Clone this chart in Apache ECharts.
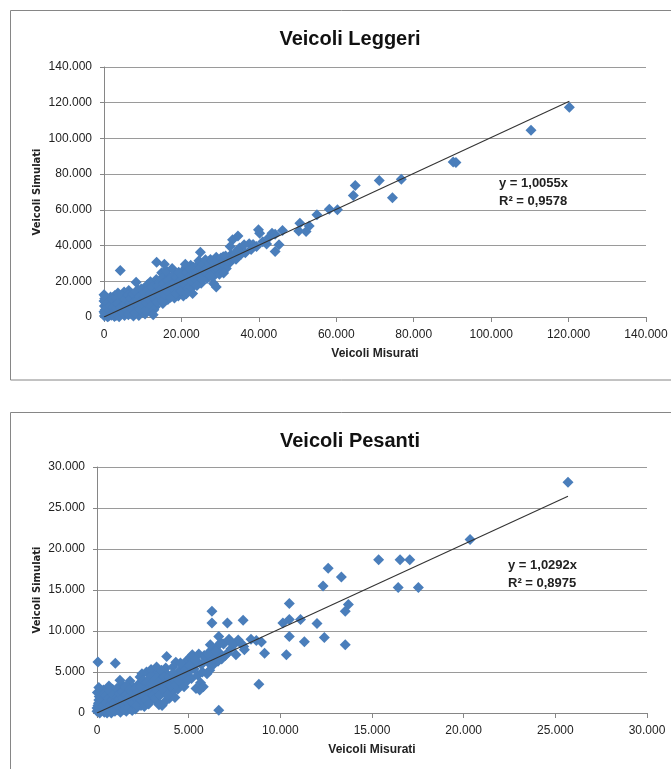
<!DOCTYPE html>
<html>
<head>
<meta charset="utf-8">
<title>Veicoli Leggeri / Veicoli Pesanti</title>
<script src="https://cdn.jsdelivr.net/npm/echarts@6/dist/echarts.min.js"></script>
<style>
    html, body { margin: 0; padding: 0; background: #fff; overflow: hidden; }
    #chart { width: 671px; height: 769px; }
</style>
</head>
<body>
<div id="chart"></div>
<script>
// valori in migliaia di veicoli: [misurati, simulati]
var datiLeggeri = [
    [0.1,0.5],[0.2,2.1],[0.3,4.0],[0.1,6.2],[0.4,8.1],[0.2,10.3],[0.5,1.2],[0.8,3.3],[1.0,5.5],[0.6,7.4],
    [1.2,0.4],[1.5,2.6],[1.8,4.8],[1.3,9.2],[2.0,7.0],[2.3,1.5],[2.6,3.9],[2.9,6.1],[2.2,10.8],[3.1,0.8],
    [3.4,2.7],[3.0,8.6],[0.3,11.8],[0.9,0.2],[1.7,11.2],[2.8,12.0],[0.0,3.0],[0.0,8.9],
    [3.8,5.2],[4.1,1.6],[4.5,3.4],[4.2,7.3],[4.8,9.6],[5.0,12.4],[5.3,0.9],[5.6,5.8],[5.9,2.9],[6.2,8.0],
    [6.0,10.9],[6.5,4.6],[6.8,13.3],[7.0,1.8],[7.2,6.6],[7.5,9.4],[7.8,3.5],[8.0,11.6],[5.2,14.0],[6.4,14.8],
    [4.0,11.0],[3.6,13.5],[7.6,0.6],[8.3,7.9],
    [8.6,5.1],[8.9,10.2],[9.1,13.9],[9.4,2.8],[9.7,8.3],[10.0,12.0],[10.2,15.5],[10.5,5.9],[10.8,9.7],[11.1,13.1],
    [11.4,3.9],[11.6,16.6],[11.9,7.4],[12.2,11.2],[12.5,14.5],[12.8,9.0],[13.0,17.8],[13.3,5.8],[13.6,12.6],[13.9,15.4],
    [9.0,0.9],[10.6,1.7],[11.2,18.0],[12.0,19.8],[13.5,21.0],[8.8,15.2],
    [14.2,9.7],[14.4,19.3],[14.7,13.6],[15.0,16.8],[15.3,11.1],[15.6,21.5],[15.9,14.3],[16.2,18.4],[16.5,9.8],[16.8,23.0],
    [17.1,15.6],[17.4,20.0],[17.7,12.7],[18.0,17.3],[18.3,24.1],[18.6,14.1],[18.9,20.7],[19.2,11.8],[19.5,22.8],[19.8,16.9],
    [14.9,24.8],[16.0,26.0],[17.6,27.2],[15.2,7.6],[18.2,10.6],
    [20.1,19.6],[20.3,25.5],[20.6,14.6],[20.9,22.4],[21.2,27.8],[21.5,17.8],[21.8,24.4],[22.1,20.9],[22.4,29.0],[22.7,16.4],
    [23.0,23.6],[23.3,26.6],[23.6,19.5],[23.9,28.1],[24.2,22.0],[24.5,31.5],[24.8,25.0],[25.1,18.9],[25.4,27.0],[25.7,23.1],
    [26.0,30.2],[21.0,29.5],[22.9,13.2],[20.5,11.8],
    [26.3,26.4],[26.6,21.6],[26.9,29.6],[27.2,24.3],[27.5,32.2],[27.8,27.8],[28.1,22.4],[28.4,30.8],[28.7,25.9],[29.0,33.4],
    [29.3,28.6],[29.6,26.7],[30.0,31.0],[30.4,28.2],[30.8,33.8],[31.2,29.4],[31.6,27.1],[32.0,32.3],[32.4,30.3],[32.8,34.9],
    [28.3,18.8],[27.0,31.0],
    [0.5,9.6],[0.7,5.0],[1.1,7.9],[1.4,3.9],[1.6,6.3],[1.9,1.0],[2.1,9.8],[2.4,5.4],[2.7,0.3],[3.2,4.6],
    [3.3,10.2],[3.5,7.6],[3.9,0.2],[4.3,5.2],[4.6,11.8],[4.9,2.2],[5.4,7.1],[5.5,10.1],[5.8,4.0],[6.1,12.3],
    [6.3,1.2],[6.7,7.8],[6.9,10.5],[7.3,4.4],[7.4,12.9],[7.7,8.2],[8.1,2.3],[8.2,14.1],[8.5,9.1],[8.7,6.9],
    [9.2,11.4],[9.3,4.6],[9.6,15.7],[9.9,7.0],[10.3,10.8],[10.4,13.6],[10.7,3.8],[11.0,7.9],[11.3,15.0],[11.5,10.4],
    [11.8,13.0],[12.1,6.2],[12.4,16.8],[12.7,12.0],[12.9,4.1],[13.2,10.1],[13.4,14.2],[13.7,8.4],[14.0,17.4],[14.3,11.9],
    [14.6,15.4],[14.8,21.6],[15.1,9.0],[15.4,18.6],[15.7,12.5],[16.0,16.2],[16.3,20.4],[16.6,13.9],[16.9,17.8],[17.2,11.0],
    [17.5,22.3],[17.8,15.9],[18.1,19.3],[18.4,13.1],[18.7,22.0],[19.0,17.8],[19.3,25.1],[19.6,19.9],[19.9,14.5],[20.2,23.0],
    [20.7,18.2],[21.1,20.7],[21.4,24.9],[21.7,15.5],[22.0,22.6],[22.3,26.8],[22.6,19.8],[23.1,27.8],[23.4,21.7],[23.7,25.2],
    [24.0,17.6],[24.3,29.4],[24.6,23.8],[25.0,27.9],[25.3,21.2],[25.6,29.6],[25.9,25.8],[26.2,32.0],[26.5,24.7],[26.8,27.6],
    [27.3,29.9],[27.7,22.9],[28.0,31.4],[28.6,28.0],[29.2,31.7],[29.8,24.0],[30.2,33.0],[30.6,30.4],[31.0,31.9],[31.4,34.2],
    [31.9,30.9],[33.3,33.1],[33.8,35.6],[34.1,32.4],[34.5,37.4],[35.0,38.6],[36.5,36.0],[37.5,41.0],[38.5,40.6],[41.0,42.2],
    [42.0,40.9],[42.6,44.5],[38.0,37.8],
    [30.9,24.6],[29.0,16.8],[24.9,36.3],[13.6,30.7],[15.6,29.6],[4.2,26.1],[8.3,19.4],[12.7,1.3],[21.3,13.0],[0.0,12.5],
    [33.2,43.2],[34.6,45.4],[32.6,39.5],[35.4,35.2],[36.2,40.4],[39.4,39.5],[39.9,48.8],[40.2,46.9],[43.4,46.9],[44.2,46.4],
    [46.1,48.4],[45.2,40.4],[44.2,36.7],[50.3,48.2],[52.2,47.9],[53.0,51.0],[50.6,52.5],[55.0,57.2],[58.2,60.3],[60.3,60.0],
    [64.4,68.0],[64.9,73.7],[71.1,76.5],[74.5,66.8],[76.8,77.1],[90.2,86.8],[90.9,86.5],[110.3,104.6],[120.2,117.5]
];

var datiPesanti = [
    [0.0,0.2],[0.05,0.9],[0.1,1.6],[0.02,2.5],[0.2,0.5],[0.3,1.2],[0.25,2.0],[0.4,0.1],[0.5,0.8],[0.45,1.7],
    [0.6,2.4],[0.7,0.3],[0.8,1.1],[0.75,1.9],[0.9,0.6],[1.0,1.5],[0.95,2.3],[0.15,0.0],[0.35,2.8],[0.55,0.0],
    [0.85,2.9],[0.1,3.1],[0.65,3.3],
    [1.1,0.4],[1.15,2.7],[1.2,1.2],[1.3,2.0],[1.35,3.5],[1.4,0.7],[1.5,1.6],[1.55,2.9],[1.6,0.2],[1.7,1.1],
    [1.75,2.4],[1.8,3.9],[1.9,0.8],[1.95,1.9],[2.0,3.1],[1.25,4.0],[1.65,3.3],
    [2.1,0.5],[2.15,2.3],[2.2,1.4],[2.3,3.6],[2.35,4.4],[2.4,0.9],[2.5,2.7],[2.55,1.8],[2.6,3.3],[2.7,5.0],
    [2.75,1.2],[2.8,2.2],[2.85,4.1],[2.9,3.0],[2.95,5.3],[3.0,1.7],[2.45,4.8],
    [3.1,2.6],[3.15,4.6],[3.2,3.5],[3.3,1.3],[3.35,5.0],[3.4,2.9],[3.5,4.2],[3.55,0.9],[3.6,3.6],[3.7,2.4],
    [3.75,5.5],[3.8,4.8],[3.9,3.1],[3.95,1.8],[4.0,4.0],[3.25,5.6],
    [4.1,2.6],[4.15,5.6],[4.2,3.4],[4.3,6.2],[4.35,4.5],[4.4,2.9],[4.5,5.1],[4.6,3.8],[4.7,5.7],[4.8,4.5],
    [4.9,6.4],[5.0,5.0],[4.25,1.9],
    [5.1,6.8],[5.15,4.2],[5.2,7.1],[5.3,5.4],[5.4,3.0],[5.45,6.3],[5.5,4.6],[5.6,2.8],[5.65,3.7],[5.7,5.9],
    [5.8,3.2],[5.9,6.7],[6.0,4.8],[5.25,6.0],[5.55,7.2],
    [6.1,6.1],[6.2,7.6],[6.3,5.8],[6.4,6.9],[6.5,8.0],[6.6,6.3],[6.7,7.3],[6.8,6.6],[6.9,8.4],[7.0,7.0],
    [0.0,0.6],[0.08,1.2],[0.12,2.0],[0.18,0.3],[0.22,1.4],[0.28,0.8],[0.32,2.2],[0.38,1.0],[0.42,0.4],[0.48,2.1],
    [0.52,1.3],[0.58,0.5],[0.62,1.8],[0.68,2.7],[0.72,1.0],[0.78,0.0],[0.82,1.6],[0.88,2.2],[0.92,1.2],[0.98,0.2],
    [1.05,1.9],[1.08,3.0],[1.12,0.9],[1.18,1.7],[1.22,2.4],[1.28,0.1],[1.32,1.3],[1.38,2.6],[1.42,1.9],[1.48,0.4],
    [1.52,3.2],[1.58,2.2],[1.62,1.4],[1.68,0.6],[1.72,1.9],[1.78,2.9],[1.82,1.5],[1.88,2.6],[1.92,0.3],[1.98,1.2],
    [2.05,2.0],[2.12,3.0],[2.18,0.9],[2.25,2.6],[2.32,1.9],[2.38,3.2],[2.42,1.5],[2.48,2.2],[2.52,4.0],[2.58,0.8],
    [2.62,2.5],[2.68,1.6],[2.72,3.8],[2.78,2.9],[2.82,1.1],[2.88,2.5],[2.92,4.4],[2.98,3.6],[3.05,2.2],[3.12,3.9],
    [3.18,1.8],[3.22,4.2],[3.28,2.8],[3.38,3.8],[3.45,2.2],[3.52,5.2],[3.58,3.0],[3.65,4.4],[3.72,1.4],[3.78,3.7],
    [3.85,2.2],[3.92,4.4],[4.05,3.3],[4.12,4.8],[4.22,4.0],[4.32,3.4],[4.45,4.0],[4.55,6.1],[4.65,4.6],[4.75,3.2],
    [4.85,5.3],[4.95,4.0],[5.05,5.8],[5.35,6.5],[5.75,5.0],[5.85,7.0],[6.05,7.2],[6.15,5.2],[6.35,6.6],[6.55,7.0],
    [6.75,8.6],[7.3,7.8],[7.5,8.4],[7.7,8.9],[7.9,8.4],[8.4,9.0],[7.2,9.0],[6.45,7.5],
    [0.05,6.23],[1.0,6.07],[3.8,6.88],[3.38,1.02],[6.64,0.33],[8.83,3.52],
    [6.27,12.42],[6.27,10.98],[7.11,10.98],[7.97,11.31],[6.64,9.34],[6.18,8.32],[7.34,8.52],[8.0,8.11],[8.69,8.85],[8.97,8.65],
    [7.11,7.29],[7.58,7.09],[8.04,7.70],[9.14,7.29],
    [10.14,10.98],[10.49,11.39],[10.49,13.36],[10.49,9.34],[10.33,7.09],[11.10,11.39],[11.31,8.69],[12.0,10.9],[12.40,9.22],
    [12.33,15.49],[12.61,17.66],[13.33,16.60],[13.71,13.24],[13.54,12.42],[13.54,8.32],
    [15.36,18.69],[16.53,18.69],[17.06,18.69],[16.43,15.29],[17.53,15.29],[20.35,21.15],[25.69,28.15]
];

var coeffLeggeri = 1.0055, r2Leggeri = '0,9578';
var coeffPesanti = 1.0292, r2Pesanti = '0,8975';

var ticksLeggeri = {min: 0, max: 140, interval: 20};
var ticksPesanti = {min: 0, max: 30, interval: 5};

var myChart = echarts.init(document.getElementById('chart'));

// 140 -> "140.000" (separatore delle migliaia all'italiana)
function fmt(v){
    if (v === 0) return '0';
    return String(Math.round(v * 1000)).replace(/\B(?=(\d{3})+(?!\d))/g, '.');
}

function trend(dati, coeff){
    var maxX = 0;
    dati.forEach(function(p){ if (p[0] > maxX) maxX = p[0]; });
    return [[0, 0], [maxX, maxX * coeff]];
}

var fontTesto = "'Liberation Sans', Arial, sans-serif";
var grigio = '#868686';

function asseX(idx, ticks){
    return {
        type: 'value', gridIndex: idx,
        min: ticks.min, max: ticks.max, interval: ticks.interval,
        name: 'Veicoli Misurati', nameLocation: 'middle', nameGap: 31,
        nameTextStyle: {fontFamily: fontTesto, fontWeight: 'bold', fontSize: 12, color: '#222'},
        axisLine: {show: true, lineStyle: {color: grigio}},
        axisTick: {show: true, length: 5, lineStyle: {color: grigio}},
        axisLabel: {formatter: fmt, margin: 12, fontFamily: fontTesto, fontSize: 12, color: '#222'},
        splitLine: {show: false}
    };
}
function asseY(idx, ticks, gap){
    return {
        type: 'value', gridIndex: idx,
        min: ticks.min, max: ticks.max, interval: ticks.interval,
        name: 'Veicoli Simulati', nameLocation: 'middle', nameGap: gap, nameRotate: 90,
        nameMoveOverlap: false,
        nameTextStyle: {fontFamily: "'DejaVu Sans', Verdana, sans-serif", fontWeight: 'bold', fontSize: 10, color: '#222'},
        axisLine: {show: true, lineStyle: {color: grigio}},
        axisTick: {show: true, length: 4, lineStyle: {color: grigio}},
        axisLabel: {formatter: fmt, margin: 12, fontFamily: fontTesto, fontSize: 12, color: '#222'},
        splitLine: {show: true, lineStyle: {color: '#9a9a9a', width: 1.2}}
    };
}
function puntiSerie(idx, dati){
    return {
        type: 'scatter', xAxisIndex: idx, yAxisIndex: idx,
        symbol: 'diamond', symbolSize: 11,
        itemStyle: {color: '#4A7EBB', opacity: 1},
        data: dati, z: 2
    };
}
function lineaSerie(idx, dati, coeff){
    return {
        type: 'line', xAxisIndex: idx, yAxisIndex: idx,
        showSymbol: false, silent: true,
        lineStyle: {color: '#333', width: 1.1},
        data: trend(dati, coeff), z: 3
    };
}

myChart.setOption({
    animation: false,
    title: [
        {text: 'Veicoli Leggeri', left: 345, top: 24, textAlign: 'center',
         textStyle: {fontFamily: fontTesto, fontWeight: 'bold', fontSize: 20, color: '#111'}},
        {text: 'Veicoli Pesanti', left: 345, top: 426, textAlign: 'center',
         textStyle: {fontFamily: fontTesto, fontWeight: 'bold', fontSize: 20, color: '#111'}}
    ],
    grid: [
        {left: 104, top: 67, width: 542, height: 250},
        {left: 97, top: 467, width: 550, height: 246}
    ],
    xAxis: [asseX(0, ticksLeggeri), asseX(1, ticksPesanti)],
    yAxis: [asseY(0, ticksLeggeri, 62), asseY(1, ticksPesanti, 55)],
    series: [
        puntiSerie(0, datiLeggeri), lineaSerie(0, datiLeggeri, coeffLeggeri),
        puntiSerie(1, datiPesanti), lineaSerie(1, datiPesanti, coeffPesanti)
    ],
    graphic: [
        {type: 'rect', shape: {x: 10.5, y: 10.5, width: 700, height: 369.5},
         style: {fill: 'none', stroke: grigio, lineWidth: 1}, silent: true},
        {type: 'rect', shape: {x: 10.5, y: 412.5, width: 700, height: 400},
         style: {fill: 'none', stroke: grigio, lineWidth: 1}, silent: true},
        {type: 'text', left: 499, top: 174,
         style: {text: 'y = ' + String(coeffLeggeri).replace('.', ',') + 'x\nR² = ' + r2Leggeri,
                 font: "bold 13px " + fontTesto, fill: '#222', lineHeight: 18, align: 'center'}},
        {type: 'text', left: 508, top: 556,
         style: {text: 'y = ' + String(coeffPesanti).replace('.', ',') + 'x\nR² = ' + r2Pesanti,
                 font: "bold 13px " + fontTesto, fill: '#222', lineHeight: 18, align: 'center'}}
    ]
});
</script>
</body>
</html>
